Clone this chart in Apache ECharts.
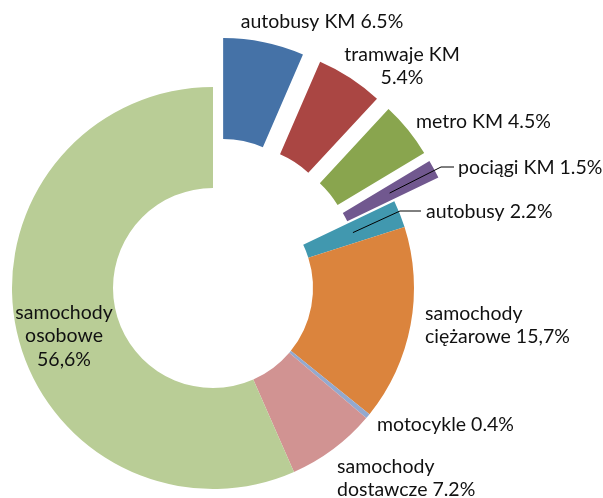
<!DOCTYPE html>
<html>
<head>
<meta charset="utf-8">
<script src="https://cdn.jsdelivr.net/npm/echarts@6/dist/echarts.min.js"></script>
<style>
  html, body { margin: 0; padding: 0; background: #fff; }
  #chart { width: 603px; height: 498px; }
</style>
</head>
<body>
<div id="chart"></div>
<script>
// Modal split of trips (percent)
const categories = ['autobusy KM', 'tramwaje KM', 'metro KM', 'pociągi KM', 'autobusy',
  'samochody\nciężarowe', 'motocykle', 'samochody\ndostawcze', 'samochody\nosobowe'];
const shares = [6.5, 5.4, 4.5, 1.5, 2.2, 15.7, 0.4, 7.2, 56.6];
const decimalMarks = ['.', '.', '.', '.', '.', ',', '.', '.', ','];
const valueSeparators = [' ', '\n', ' ', ' ', ' ', ' ', ' ', ' ', '\n'];
// public transport (KM) slices are pulled out of the ring
const exploded = [true, true, true, true, false, false, false, false, false];

const colors = ['#4572A7', '#AA4643', '#89A54E', '#71588F', '#4198AF',
  '#DB843D', '#93A9CF', '#D19392', '#B9CD96'];

// ring geometry
const CX = 213, CY = 288, R0 = 100, R1 = 201, OFFSET = 50;

// label anchor points
const labelAnchors = [
  { x: 322, y: 22,  align: 'center' },
  { x: 402, y: 66,  align: 'center' },
  { x: 416, y: 122, align: 'left' },
  { x: 458, y: 168, align: 'left' },
  { x: 426, y: 212, align: 'left' },
  { x: 425, y: 325, align: 'left' },
  { x: 377, y: 425, align: 'left' },
  { x: 337, y: 478, align: 'left' },
  { x: 64,  y: 336, align: 'center' }
];
// outer ends of the leader lines
const leaderEnds = {
  3: [[441, 167], [454, 167]],
  4: [[400, 211], [421, 211]]
};

const total = shares.reduce((a, b) => a + b, 0);
function midAngle(i) {
  let cum = 0;
  for (let k = 0; k < i; k++) cum += shares[k];
  return (cum + shares[i] / 2) / total * 2 * Math.PI;
}
// leader lines begin half way across the ring, inside their slice
function leaderStart(i) {
  const a = midAngle(i);
  const r = (R0 + R1) / 2 + (exploded[i] ? OFFSET : 0);
  return [CX + r * Math.sin(a), CY - r * Math.cos(a)];
}

const labelText = i => categories[i] + valueSeparators[i] +
  shares[i].toFixed(1).replace('.', decimalMarks[i]) + '%';

const leaderGraphics = Object.keys(leaderEnds).map(k => {
  const i = +k;
  return {
    type: 'polyline',
    z: 100,
    silent: true,
    shape: { points: [leaderStart(i)].concat(leaderEnds[i]) },
    style: { stroke: '#000', lineWidth: 1, fill: null }
  };
});

const chart = echarts.init(document.getElementById('chart'), null, { renderer: 'canvas' });

chart.setOption({
  animation: false,
  graphic: leaderGraphics,
  series: [
    {
      // the ring itself
      type: 'pie',
      center: [CX, CY],
      radius: [R0, R1],
      startAngle: 90,
      clockwise: true,
      selectedMode: 'multiple',
      selectedOffset: OFFSET,
      emphasis: { disabled: true },
      itemStyle: { borderWidth: 0 },
      label: { show: false },
      labelLine: { show: false },
      data: categories.map((name, i) => ({
        name: name,
        value: shares[i],
        selected: exploded[i],
        itemStyle: { color: colors[i] }
      }))
    },
    {
      // transparent twin carrying the category labels
      type: 'pie',
      center: [CX, CY],
      radius: [R0, R1],
      startAngle: 90,
      clockwise: true,
      silent: true,
      avoidLabelOverlap: false,
      emphasis: { disabled: true },
      itemStyle: { color: 'rgba(0,0,0,0)', borderWidth: 0 },
      label: {
        show: true,
        position: 'outside',
        fontFamily: 'Lato',
        fontSize: 19.5,
        lineHeight: 23.5,
        color: '#111',
        formatter: p => labelText(p.dataIndex)
      },
      labelLine: { show: false },
      labelLayout: params => {
        const a = labelAnchors[params.dataIndex];
        return { x: a.x, y: a.y, align: a.align, verticalAlign: 'middle' };
      },
      data: categories.map((name, i) => ({
        name: name,
        value: shares[i],
        label: { align: labelAnchors[i].align }
      }))
    }
  ]
});
</script>
</body>
</html>
